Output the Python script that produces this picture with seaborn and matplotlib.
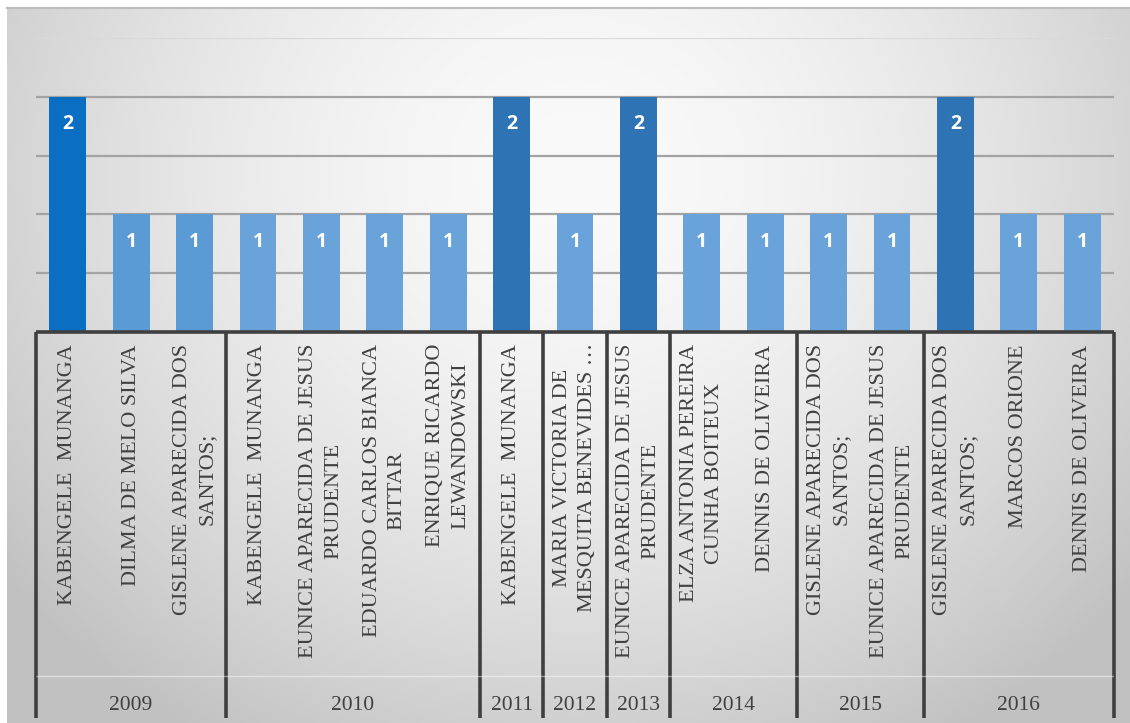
import numpy as np
import pandas as pd
import matplotlib
matplotlib.use("Agg")
import matplotlib.pyplot as plt
from matplotlib.lines import Line2D
from matplotlib.textpath import TextPath
from matplotlib.font_manager import FontProperties
from matplotlib.transforms import ScaledTranslation
import seaborn as sns

# ---- data ----
years = ["2009", "2009", "2009",
         "2010", "2010", "2010", "2010",
         "2011", "2012", "2013",
         "2014", "2014",
         "2015", "2015",
         "2016", "2016", "2016"]
names = ["KABENGELE  MUNANGA",
         "DILMA DE MELO SILVA",
         "GISLENE APARECIDA DOS\nSANTOS;",
         "KABENGELE  MUNANGA",
         "EUNICE APARECIDA DE JESUS\nPRUDENTE",
         "EDUARDO CARLOS BIANCA\nBITTAR",
         "ENRIQUE RICARDO\nLEWANDOWSKI",
         "KABENGELE  MUNANGA",
         "MARIA VICTORIA DE\nMESQUITA BENEVIDES …",
         "EUNICE APARECIDA DE JESUS\nPRUDENTE",
         "ELZA ANTONIA PEREIRA\nCUNHA BOITEUX",
         "DENNIS DE OLIVEIRA",
         "GISLENE APARECIDA DOS\nSANTOS;",
         "EUNICE APARECIDA DE JESUS\nPRUDENTE",
         "GISLENE APARECIDA DOS\nSANTOS;",
         "MARCOS ORIONE",
         "DENNIS DE OLIVEIRA"]
counts = [2, 1, 1, 1, 1, 1, 1, 2, 1, 2, 1, 1, 1, 1, 2, 1, 1]

# ---- styling ----
DARK_FIRST = "#0A6FC2"
DARK = "#2E74B5"
LIGHT_A = "#5B9BD5"
LIGHT_B = "#6AA3D9"
bar_colors = [DARK_FIRST, LIGHT_A, LIGHT_A,
              LIGHT_B, LIGHT_B, LIGHT_B, LIGHT_B,
              DARK, LIGHT_B, DARK,
              LIGHT_B, LIGHT_B, LIGHT_B, LIGHT_B,
              DARK, LIGHT_B, LIGHT_B]
TEXT = "#404040"
LINE = "#3f3f3f"
SERIF = "Liberation Serif"
NAME_SIZE = 16

df = pd.DataFrame({"slot": [f"{i:02d}" for i in range(len(counts))],
                   "year": years, "name": names, "count": counts})
palette = dict(zip(df["slot"], bar_colors))

W, H = 1130, 723
DPI = 100
fig = plt.figure(figsize=(W / DPI, H / DPI), dpi=DPI, facecolor="white")

# soft radial backdrop of the chart area
bx0, by_top = 7, 8
bg = fig.add_axes([bx0 / W, 0, 1 - bx0 / W, (H - by_top) / H])
gx, gy = np.meshgrid(np.linspace(bx0, W, 400), np.linspace(by_top, H, 300))
d = np.sqrt(((gx - 575) / 720) ** 2 + ((gy - 170) / 660) ** 2)
t = np.clip(d, 0, 1) ** 1.7
c0 = np.array([0.98, 0.98, 0.98])
c1 = np.array([0.76, 0.76, 0.76])
img = c0[None, None, :] * (1 - t[..., None]) + c1[None, None, :] * t[..., None]
bg.imshow(img, aspect="auto", extent=[0, 1, 0, 1], origin="upper")
bg.set_axis_off()
fig.add_artist(Line2D([bx0 / W, 1], [(H - by_top) / H] * 2,
                      transform=fig.transFigure, color="#bdbdbd", lw=1.5))

# ---- bars ----
left, right = 36, 1114
y0, ytop = 332, 38
ax = fig.add_axes([left / W, (H - y0) / H, (right - left) / W, (y0 - ytop) / H])
ax.set_facecolor("none")
sns.barplot(data=df, x="slot", y="count", hue="slot", palette=palette,
            legend=False, width=0.58, saturation=1, ax=ax, zorder=3)
ax.set_xlim(-0.5, len(counts) - 0.5)
ax.set_ylim(0, 2.5)
ax.set_yticks([0.5, 1.0, 1.5, 2.0, 2.5])
ax.grid(axis="y", color="#a3a3a3", lw=1.6, zorder=1)
ax.set_axisbelow(True)
gl = ax.yaxis.get_gridlines()
gl[-1].set_color("#d9d9d9")
ax.tick_params(left=False, bottom=False, labelleft=False, labelbottom=False)
ax.set_xlabel("")
ax.set_ylabel("")
for s in ax.spines.values():
    s.set_visible(False)

for cont in ax.containers:
    ax.bar_label(cont, fmt="%d", padding=-27, color="white",
                 fontsize=14, fontweight="bold", family="Open Sans")

# ---- two-level category axis ----
ybot = 718
cax = fig.add_axes([left / W, (H - ybot) / H, (right - left) / W, (ybot - y0) / H])
cax.set_xlim(-0.5, len(counts) - 0.5)
cax.set_ylim(0, 1)
cax.set_axis_off()

group_years = []
bounds = [0]
for i, y in enumerate(years):
    if i == 0 or y != years[i - 1]:
        group_years.append(y)
        if i > 0:
            bounds.append(i)
bounds.append(len(years))

cax.hlines(1, -0.5, len(counts) - 0.5, color=LINE, lw=2.6, clip_on=False)
cax.vlines([b - 0.5 for b in bounds], 0, 1, color=LINE, lw=2.6, clip_on=False)
cax.hlines((ybot - 676) / (ybot - y0), -0.5, len(counts) - 0.5,
           color="white", lw=1, alpha=0.45)

# vertical name labels: each block hangs from just under the axis line,
# lines stacked left-to-right and centred on one another
fp = FontProperties(family=SERIF, size=NAME_SIZE)
label_top_px = 345
line_pitch_px = 25
for i, nm in enumerate(names):
    lines = nm.split("\n")
    n = len(lines)
    lens_px = [TextPath((0, 0), ln, prop=fp).get_extents().width * DPI / 72
               for ln in lines]
    yc_px = label_top_px + max(lens_px) / 2
    yc = (ybot - yc_px) / (ybot - y0)
    for k, ln in enumerate(lines):
        dx = (k - (n - 1) / 2) * line_pitch_px / DPI
        tr = cax.transData + ScaledTranslation(dx, 0, fig.dpi_scale_trans)
        cax.text(i, yc, ln, rotation=90, rotation_mode="anchor",
                 ha="center", va="center", fontproperties=fp, color=TEXT,
                 transform=tr)

year_y = (ybot - 706) / (ybot - y0)
for k, yr in enumerate(group_years):
    xc = (bounds[k] + bounds[k + 1] - 1) / 2
    cax.text(xc, year_y, yr, ha="center", va="center", fontsize=15.5,
             color=TEXT, family=SERIF)

fig.savefig("out.png", dpi=DPI, facecolor="white")
